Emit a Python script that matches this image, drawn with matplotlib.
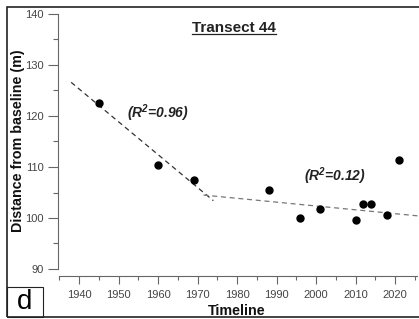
"""Transect 44 — shoreline distance from baseline over time (panel d)."""

import matplotlib

matplotlib.use("Agg")

import matplotlib.pyplot as plt
import matplotlib.ticker as mticker
from matplotlib.lines import Line2D
from matplotlib.patches import Rectangle

# data
years = [1945, 1960, 1969, 1988, 1996, 2001, 2010, 2012, 2014, 2018, 2021]
distance = [122.6, 110.4, 107.4, 105.5, 100.0, 101.8, 99.6, 102.7, 102.7, 100.5, 111.4]

# fitted trend segments (end points)
trend1_x = [1938, 1974]
trend1_y = [126.6, 103.4]
trend2_x = [1971.5, 2026]
trend2_y = [104.5, 100.4]

r2_labels = ["0.96", "0.12"]
r2_pos = [(1960, 120.6), (2004.8, 108.1)]

plt.rcParams["font.family"] = ["Liberation Sans", "DejaVu Sans"]
plt.rcParams["mathtext.fontset"] = "custom"
plt.rcParams["mathtext.bf"] = "Liberation Sans:italic:bold"
plt.rcParams["mathtext.rm"] = "Liberation Sans:italic:bold"
plt.rcParams["mathtext.it"] = "Liberation Sans:italic:bold"

W, H = 419, 319
fig = plt.figure(figsize=(W / 100, H / 100), dpi=100)
fig.patch.set_facecolor("white")

# axes box in pixels: x 1935..2026 -> 59.3..418.8, y 90..140 -> 269..14
ax = fig.add_axes([59.3 / W, (H - 269) / H, 359.5 / W, 255 / H])
ax.set_xlim(1935, 2026)
ax.set_ylim(90, 140)

ax.plot(trend1_x, trend1_y, ls=(0, (4, 3)), color="#333333", lw=0.9, clip_on=False)
ax.plot(trend2_x, trend2_y, ls=(0, (4, 3)), color="#777777", lw=0.9, clip_on=False)
ax.plot(years, distance, "o", color="black", ms=5, clip_on=False, zorder=3)

for lab, (x, y) in zip(r2_labels, r2_pos):
    ax.text(x, y, r"(R$^{2}$=" + lab + ")", fontsize=10, fontweight="bold",
            fontstyle="italic", ha="center", va="center", color="#222222")

# spines
for s in ("top", "right"):
    ax.spines[s].set_visible(False)
ax.spines["left"].set_bounds(90, 140)
ax.spines["left"].set_position(("outward", 1))
ax.spines["bottom"].set_bounds(1935, 2025.5)
ax.spines["bottom"].set_position(("outward", 4.7))
for s in ("left", "bottom"):
    ax.spines[s].set_color("#666666")
    ax.spines[s].set_linewidth(0.8)

ax.xaxis.set_minor_locator(mticker.MultipleLocator(5))
ax.yaxis.set_major_locator(mticker.MultipleLocator(10))
ax.yaxis.set_minor_locator(mticker.MultipleLocator(5))
ax.set_xticks([1940, 1950, 1960, 1970, 1980, 1990, 2000, 2010, 2020])
ax.tick_params(which="major", length=7, width=0.8, color="#666666",
               labelsize=8, labelcolor="#444444")
ax.tick_params(which="minor", length=3.4, width=0.8, color="#666666")
ax.tick_params(axis="y", pad=3)
ax.tick_params(axis="x", which="major", length=5.4, pad=5)
ax.tick_params(axis="x", which="minor", length=3)

fig.text(18 / W, 1 - 141 / H, "Distance from baseline (m)", rotation=90,
         fontsize=10.3, fontweight="bold", ha="center", va="center", color="#111111")
fig.text(237 / W, 1 - 315 / H, "Timeline", fontsize=10.3, fontweight="bold",
         ha="center", va="baseline", color="#111111")

title = fig.text(234 / W, 1 - 31.5 / H, "Transect 44",
                 family=["Liberation Sans Narrow", "Liberation Sans", "DejaVu Sans"],
                 fontsize=11, fontweight="bold", ha="center", va="baseline", color="#222222")
fig.canvas.draw()
bb = title.get_window_extent()
uy = bb.y0 + 1
fig.add_artist(Line2D([bb.x0 / W, bb.x1 / W], [uy / H, uy / H],
                      transform=fig.transFigure, color="#222222", lw=0.9))

# outer frame and panel letter box
fig.add_artist(Rectangle((7 / W, 1 - 316.5 / H), 420 / W, 309.5 / H, transform=fig.transFigure,
                         fill=False, ec="#222222", lw=1.2))
fig.add_artist(Rectangle((7 / W, 1 - 316.5 / H), 36 / W, 29.5 / H, transform=fig.transFigure,
                         fill=False, ec="#222222", lw=0.8))
fig.text(25 / W, 1 - 302 / H, "d", fontsize=20, ha="center", va="center", color="black")

fig.savefig("out.png", dpi=100, facecolor="white")
